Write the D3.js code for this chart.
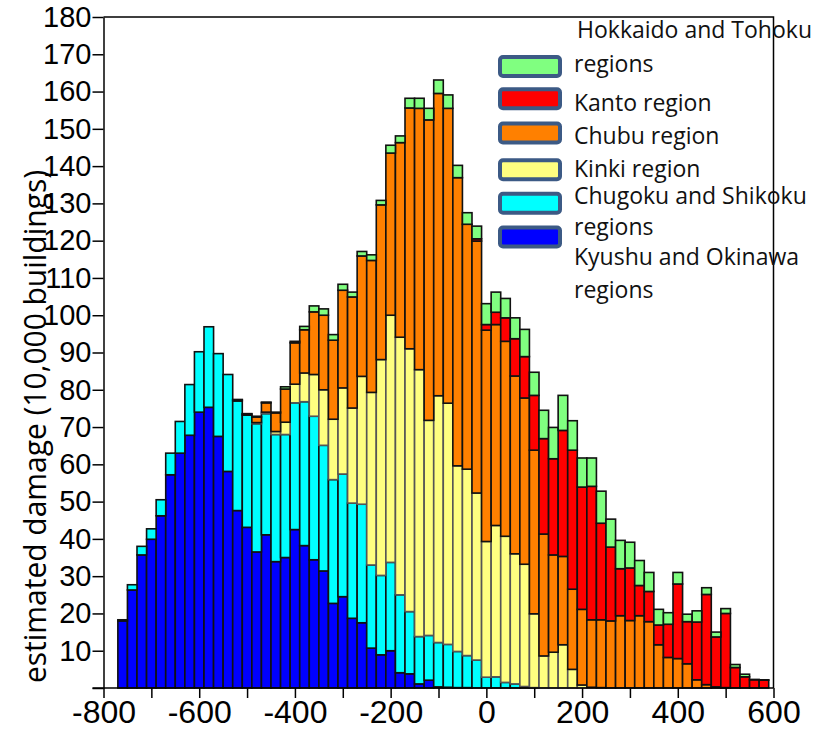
<!DOCTYPE html>
<html>
<head>
<meta charset="utf-8">
<script src="https://cdn.jsdelivr.net/npm/d3@7"></script>
<style>
  body { margin: 0; background: #fff; }
  svg { display: block; }
</style>
</head>
<body>
<div id="chart"></div>
<script>
// bin left edges (width 20)
var binStart = [-770, -750, -730, -710, -690, -670, -650, -630, -610, -590,
                -570, -550, -530, -510, -490, -470, -450, -430, -410, -390,
                -370, -350, -330, -310, -290, -270, -250, -230, -210, -190,
                -170, -150, -130, -110, -90, -70, -50, -30, -10, 10,
                30, 50, 70, 90, 110, 130, 150, 170, 190, 210,
                230, 250, 270, 290, 310, 330, 350, 370, 390, 410,
                430, 450, 470, 490, 510, 530, 550, 570];
var binWidth = 20;

// values per region (10,000 buildings), bottom of the stack first
var kyushu = [18.0, 26.3, 35.7, 39.9, 46.2, 57.2, 63.0, 67.8, 74.0, 75.3,
              67.5, 58.1, 47.6, 43.1, 36.5, 41.1, 33.9, 35.0, 42.5, 38.2,
              34.4, 31.4, 22.7, 24.5, 18.7, 17.5, 10.7, 8.9, 10.0, 4.1,
              3.8, 1.1, 2.1, 0.3, 0.2, 0.1, 0.1, 0, 0, 0,
              0, 0, 0, 0, 0, 0, 0, 0, 0, 0,
              0, 0, 0, 0, 0, 0, 0, 0, 0, 0,
              0, 0, 0, 0, 0, 0, 0, 0];
var chugoku = [0.3, 1.4, 2.3, 2.8, 4.3, 5.8, 8.5, 13.6, 16.2, 21.6,
               22.2, 26.0, 29.4, 30.1, 34.4, 32.5, 34.1, 33.0, 34.0, 38.6,
               38.5, 33.7, 33.2, 32.9, 30.9, 31.8, 22.3, 21.3, 23.7, 20.9,
               16.7, 12.7, 12.0, 11.9, 11.5, 9.7, 8.6, 7.5, 2.9, 3.0,
               1.5, 1.1, 0.4, 0.1, 0, 0, 0, 0, 0, 0,
               0, 0, 0, 0, 0, 0, 0, 0, 0, 0,
               0, 0, 0, 0, 0, 0, 0, 0];
var kinki = [0, 0, 0, 0, 0, 0, 0, 0, 0, 0,
             0, 0, 0, 0, 0.3, 0.4, 0.8, 3.3, 5.0, 7.7,
             11.2, 14.9, 16.2, 23.1, 25.5, 34.3, 46.3, 57.9, 66.3, 69.1,
             70.5, 71.6, 57.7, 66.2, 64.7, 49.8, 50.0, 44.8, 36.4, 40.6,
             39.2, 34.9, 32.8, 19.8, 8.6, 9.6, 11.6, 5.0, 0.8, 0.2,
             0.1, 0, 0, 0, 0, 0, 0, 0, 0, 0,
             0, 0, 0, 0, 0, 0, 0, 0];
var chubu = [0, 0, 0, 0, 0, 0, 0, 0, 0, 0,
             0, 0, 0.3, 0.3, 1.5, 2.5, 5.0, 8.9, 11.1, 11.6,
             16.8, 20.0, 21.2, 26.2, 29.8, 32.3, 35.4, 41.5, 43.5, 52.2,
             64.6, 70.1, 80.6, 81.1, 79.1, 77.3, 65.7, 67.6, 56.7, 53.9,
             52.3, 47.7, 44.6, 43.9, 32.7, 26.1, 23.7, 21.5, 20.3, 18.1,
             18.2, 18.0, 19.4, 18.1, 19.4, 17.8, 11.6, 8.2, 7.9, 6.5,
             2.2, 0.9, 0.3, 0.1, 0, 0, 0, 0];
var kanto = [0, 0, 0, 0, 0, 0, 0, 0, 0, 0,
             0, 0, 0, 0, 0, 0, 0, 0, 0, 0,
             0, 0, 0, 0, 0, 0, 0, 0, 0, 0,
             0, 0, 0, 0, 0, 0, 0, 0.6, 1.5, 3.3,
             6.3, 10.0, 11.1, 14.7, 25.6, 25.8, 33.8, 37.3, 32.8, 35.8,
             25.9, 19.8, 12.6, 14.1, 8.1, 8.1, 5.3, 8.9, 20.0, 11.3,
             15.5, 24.2, 13.4, 19.9, 5.5, 3.0, 2.2, 2.1];
var hokkaido = [0, 0, 0, 0, 0, 0, 0, 0, 0, 0,
                0, 0, 0.1, 0.1, 0.2, 0.2, 0.2, 0.6, 0.4, 0.9,
                1.6, 1.7, 1.5, 1.6, 1.3, 1.2, 1.5, 1.2, 2.1, 1.8,
                2.6, 2.7, 3.1, 3.6, 3.6, 3.3, 3.1, 3.4, 5.6, 5.4,
                5.2, 5.6, 7.3, 6.2, 7.6, 8.4, 9.4, 7.9, 7.8, 7.6,
                8.6, 7.5, 7.6, 6.9, 6.7, 5.1, 4.2, 3.1, 3.1, 2.0,
                3.0, 1.8, 1.3, 1.3, 0.8, 0.7, 0.1, 0.1];

var seriesKeys = ["kyushu", "chugoku", "kinki", "chubu", "kanto", "hokkaido"];
var seriesColors = ["#0000ff", "#00ffff", "#ffff80", "#ff8000", "#ff0000", "#80ff80"];

// legend, top to bottom
var legendKeys = ["hokkaido", "kanto", "chubu", "kinki", "chugoku", "kyushu"];
var legendLines = [["Hokkaido and Tohoku", "regions"], ["Kanto region"], ["Chubu region"],
                   ["Kinki region"], ["Chugoku and Shikoku", "regions"],
                   ["Kyushu and Okinawa", "regions"]];

var xTicks = [-800, -700, -600, -500, -400, -300, -200, -100, 0, 100, 200, 300, 400, 500, 600];
var yTicks = [0, 10, 20, 30, 40, 50, 60, 70, 80, 90, 100, 110, 120, 130, 140, 150, 160, 170, 180];
var yTitle = "estimated damage (10,000 buildings)";

var width = 827, height = 729;
var svg = d3.select("#chart").append("svg")
    .attr("width", width).attr("height", height);

var x = d3.scaleLinear().domain([-800, 600]).range([103.5, 773.5]);
var y = d3.scaleLinear().domain([0, 180]).range([688, 17]);

var rows = binStart.map(function(b, i) {
    return {x0: b, kyushu: kyushu[i], chugoku: chugoku[i], kinki: kinki[i],
            chubu: chubu[i], kanto: kanto[i], hokkaido: hokkaido[i]};
});
var stacked = d3.stack().keys(seriesKeys)(rows);
var color = d3.scaleOrdinal().domain(seriesKeys).range(seriesColors);

// bars
var bars = svg.append("g");
stacked.forEach(function(layer) {
    bars.append("g")
        .attr("fill", color(layer.key))
        .attr("stroke", layer.key == "kinki" ? "#555" : "#111")
        .attr("stroke-width", 1.6)
        .selectAll("rect")
        .data(layer.filter(function(d) { return d[1] - d[0] > 0; }))
        .join("rect")
        .attr("x", function(d) { return x(d.data.x0); })
        .attr("width", function(d) { return x(d.data.x0 + binWidth) - x(d.data.x0); })
        .attr("y", function(d) { return y(d[1]); })
        .attr("height", function(d) { return y(d[0]) - y(d[1]); });
});

// frame (top and right)
svg.append("path")
    .attr("d", "M" + x(-800) + "," + y(180) + "H" + x(600) + "V" + y(0))
    .attr("fill", "none").attr("stroke", "#000").attr("stroke-width", 1.5);

// axes
var yAxis = svg.append("g")
    .attr("transform", "translate(" + x(-800) + ",0)")
    .call(d3.axisLeft(y).tickValues(yTicks).tickSize(11).tickSizeOuter(0).tickPadding(1)
          .tickFormat(function(d) { return d === 0 ? "" : String(d); }));
var xAxis = svg.append("g")
    .attr("transform", "translate(0," + y(0) + ")")
    .call(d3.axisBottom(x).tickValues(xTicks).tickSize(10).tickSizeOuter(0).tickPadding(2)
          .tickFormat(function(d) { return d % 200 === 0 ? String(d) : ""; }));
[yAxis, xAxis].forEach(function(a) {
    a.selectAll("path, line").attr("stroke", "#000").attr("stroke-width", 1.5);
    a.selectAll("text").attr("fill", "#000")
        .style("font-family", "'Liberation Sans', Arial, sans-serif");
});
yAxis.selectAll("text").style("font-size", "29px");
xAxis.selectAll("text").style("font-size", "32px");
// x axis line reaches a bit left of the y axis, like the 0 tick
xAxis.select(".domain").attr("d", "M" + (x(-800) - 11) + ",0H" + x(600));

// y title
svg.append("text")
    .attr("transform", "translate(46,683) rotate(-90)")
    .attr("textLength", 513)
    .attr("lengthAdjust", "spacingAndGlyphs")
    .style("font-family", "'Open Sans', sans-serif")
    .style("font-size", "31px")
    .attr("fill", "#000")
    .text(yTitle);

// legend
var swatchY = [66.5, 98.7, 133, 169.7, 203.3, 237];
var textY = [[38, 72], [111], [144], [177], [204, 235], [265, 298]];
var legend = svg.append("g");
legendKeys.forEach(function(k, i) {
    legend.append("rect")
        .attr("x", 500).attr("y", swatchY[i] - 9.5)
        .attr("width", 60).attr("height", 19)
        .attr("rx", 3)
        .attr("fill", color(k))
        .attr("stroke", "#3c5a85").attr("stroke-width", 4);
    legendLines[i].forEach(function(line, j) {
        legend.append("text")
            .attr("x", j === 0 && i === 0 ? 577 : 574)
            .attr("y", textY[i][j])
            .style("font-family", "'Open Sans', sans-serif")
            .style("font-size", "23px")
            .attr("fill", "#111")
            .text(line);
    });
});
</script>
</body>
</html>
